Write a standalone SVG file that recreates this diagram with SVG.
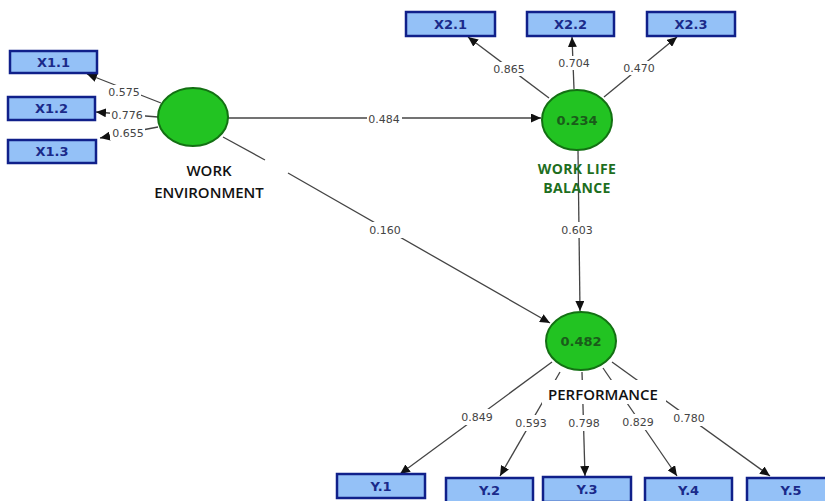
<svg xmlns="http://www.w3.org/2000/svg" width="825" height="501" viewBox="0 0 825 501">
<defs>
<marker id="arr" markerUnits="userSpaceOnUse" markerWidth="10" markerHeight="9" refX="10" refY="4.5" orient="auto">
<path d="M0,0 L10,4.5 L0,9 z" fill="#111"/>
</marker>
<style>
.ln{stroke:#444;stroke-width:1.3;fill:none}
.ar{marker-end:url(#arr)}
.bg{fill:#fff}
.val{font-family:"DejaVu Sans","Liberation Sans",sans-serif;font-size:11px;fill:#444;text-anchor:middle;dominant-baseline:central}
.lv{fill:#22c322;stroke:#137013;stroke-width:2}
.cv{font-family:"DejaVu Sans","Liberation Sans",sans-serif;font-size:13px;font-weight:bold;fill:#1a5c1a;text-anchor:middle;dominant-baseline:central}
.box{fill:#94c1f7;stroke:#10208a;stroke-width:2.5}
.bt{font-family:"DejaVu Sans","Liberation Sans",sans-serif;font-size:13px;font-weight:bold;fill:#1a2a8a;text-anchor:middle;dominant-baseline:central}
.nl{font-family:"Open Sans","Liberation Sans",sans-serif;font-size:15px;font-weight:600;fill:#111;text-anchor:middle}
.ng{font-family:"Open Sans","Liberation Sans",sans-serif;font-size:14px;font-weight:bold;letter-spacing:0.4px;fill:#1e6e1e;text-anchor:middle}
</style>
</defs>
<rect width="825" height="501" fill="#fff"/>
<g id="connectors">
<line class="ln ar" x1="161" y1="103" x2="87" y2="74"/>
<line class="ln ar" x1="158" y1="117" x2="96" y2="112"/>
<line class="ln ar" x1="158" y1="127" x2="100" y2="138"/>
<line class="ln ar" x1="549" y1="98" x2="468" y2="37"/>
<line class="ln ar" x1="574" y1="89" x2="572" y2="37"/>
<line class="ln ar" x1="604" y1="97" x2="677" y2="37"/>
<line class="ln ar" x1="228" y1="118" x2="541" y2="118"/>
<line class="ln" x1="223" y1="137" x2="265" y2="160"/>
<line class="ln ar" x1="288" y1="173" x2="550" y2="323"/>
<line class="ln ar" x1="578" y1="150" x2="580" y2="311"/>
<line class="ln ar" x1="552" y1="362" x2="400" y2="474"/>
<line class="ln ar" x1="560" y1="372" x2="500" y2="476"/>
<line class="ln ar" x1="582" y1="372" x2="585" y2="476"/>
<line class="ln ar" x1="603" y1="368" x2="677" y2="476"/>
<line class="ln ar" x1="612" y1="362" x2="770" y2="476"/>
<rect class="bg" x="106" y="85" width="35" height="14"/><text class="val" x="124" y="92">0.575</text>
<rect class="bg" x="110" y="108" width="35" height="14"/><text class="val" x="127" y="115">0.776</text>
<rect class="bg" x="110" y="126" width="35" height="14"/><text class="val" x="128" y="133">0.655</text>
<rect class="bg" x="492" y="62" width="35" height="14"/><text class="val" x="509" y="69">0.865</text>
<rect class="bg" x="556" y="56" width="35" height="14"/><text class="val" x="574" y="63">0.704</text>
<rect class="bg" x="622" y="61" width="35" height="14"/><text class="val" x="639" y="68">0.470</text>
<rect class="bg" x="367" y="112" width="35" height="14"/><text class="val" x="384" y="119">0.484</text>
<rect class="bg" x="368" y="222" width="35" height="16"/><text class="val" x="385" y="230">0.160</text>
<rect class="bg" x="560" y="222" width="35" height="16"/><text class="val" x="577" y="230">0.603</text>
<rect class="bg" x="460" y="409" width="35" height="16"/><text class="val" x="477" y="417">0.849</text>
<rect class="bg" x="514" y="415" width="35" height="16"/><text class="val" x="531" y="423">0.593</text>
<rect class="bg" x="567" y="415" width="35" height="16"/><text class="val" x="584" y="423">0.798</text>
<rect class="bg" x="621" y="414" width="35" height="16"/><text class="val" x="638" y="422">0.829</text>
<rect class="bg" x="672" y="410" width="35" height="16"/><text class="val" x="689" y="418">0.780</text>
</g>
<g id="work-environment">
<ellipse class="lv" cx="193" cy="117" rx="35" ry="29"/>
<text class="nl" x="209" y="176">WORK</text>
<text class="nl" x="209" y="198">ENVIRONMENT</text>
</g>
<g id="work-life-balance">
<ellipse class="lv" cx="577" cy="120" rx="35" ry="30"/>
<text class="cv" x="577" y="120">0.234</text>
<text class="ng" x="577" y="174">WORK LIFE</text>
<text class="ng" x="577" y="193">BALANCE</text>
</g>
<g id="performance">
<ellipse class="lv" cx="581" cy="341" rx="35" ry="29"/>
<text class="cv" x="581" y="341">0.482</text>
<rect class="bg" x="542" y="380" width="124" height="24"/>
<text class="nl" x="603" y="400">PERFORMANCE</text>
</g>
<g id="x1-1"><rect class="box" x="10" y="51" width="87" height="22"/><text class="bt" x="53.5" y="62">X1.1</text></g>
<g id="x1-2"><rect class="box" x="8" y="97" width="87" height="23"/><text class="bt" x="51.5" y="108.5">X1.2</text></g>
<g id="x1-3"><rect class="box" x="8" y="140" width="88" height="23"/><text class="bt" x="52" y="151.5">X1.3</text></g>
<g id="x2-1"><rect class="box" x="406" y="12" width="89" height="24"/><text class="bt" x="450.5" y="24">X2.1</text></g>
<g id="x2-2"><rect class="box" x="527" y="12" width="87" height="24"/><text class="bt" x="570.5" y="24">X2.2</text></g>
<g id="x2-3"><rect class="box" x="647" y="12" width="88" height="24"/><text class="bt" x="691" y="24">X2.3</text></g>
<g id="y1"><rect class="box" x="337" y="474" width="88" height="24"/><text class="bt" x="381" y="486">Y.1</text></g>
<g id="y2"><rect class="box" x="446" y="478" width="87" height="25"/><text class="bt" x="489.5" y="490">Y.2</text></g>
<g id="y3"><rect class="box" x="543" y="477" width="88" height="25"/><text class="bt" x="587" y="489">Y.3</text></g>
<g id="y4"><rect class="box" x="645" y="478" width="87" height="25"/><text class="bt" x="688.5" y="490">Y.4</text></g>
<g id="y5"><rect class="box" x="747" y="478" width="88" height="25"/><text class="bt" x="791" y="490">Y.5</text></g>
</svg>
